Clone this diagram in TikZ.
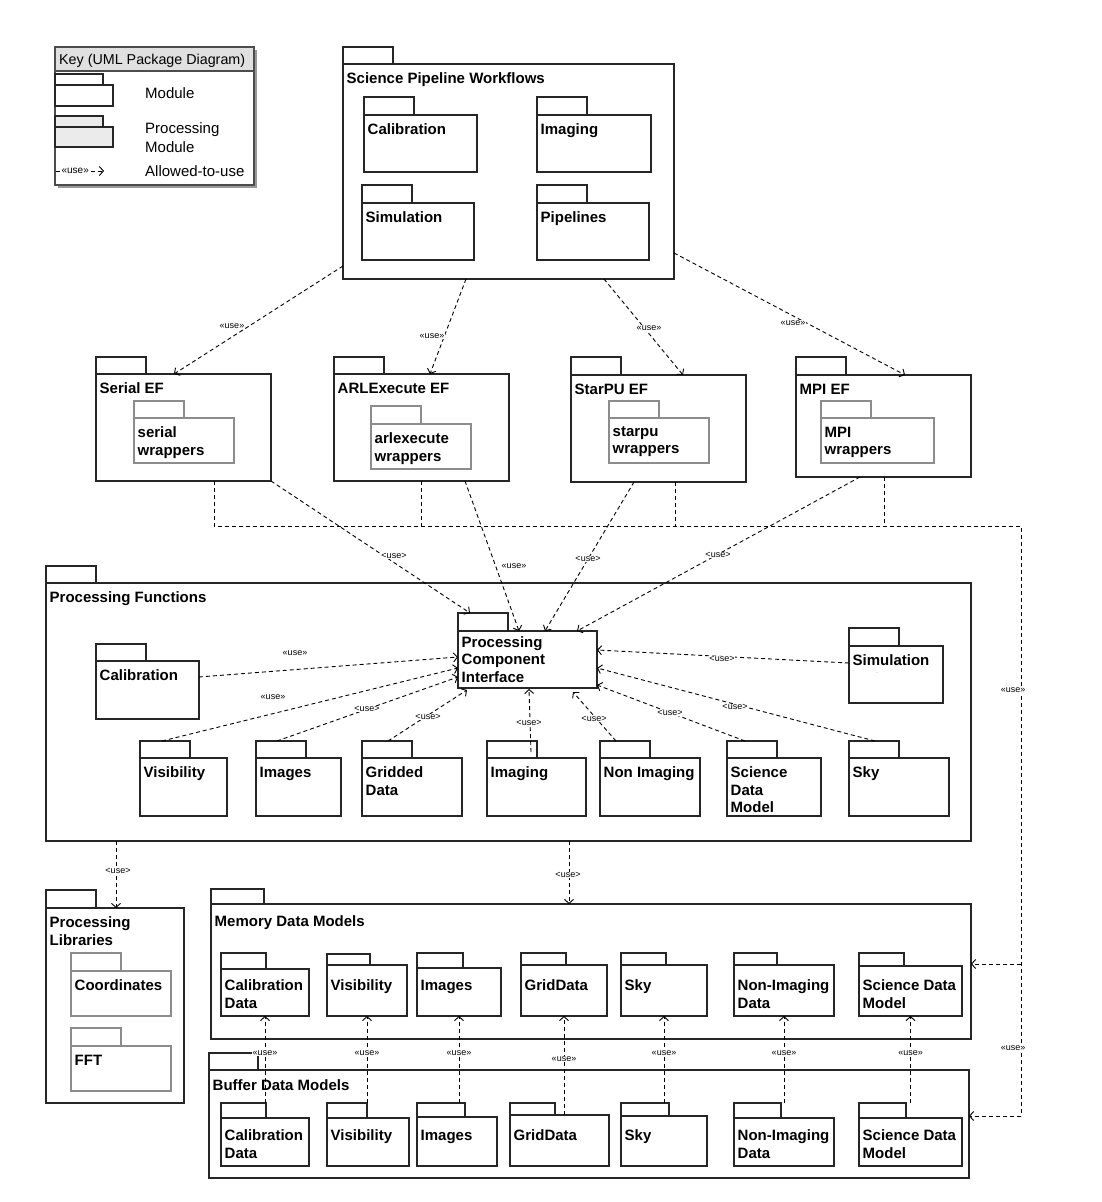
\documentclass[tikz,border=0pt]{standalone}
\usepackage{fontspec}
\setmainfont{Liberation Sans}
\usetikzlibrary{arrows.meta,calc}

\tikzset{
  pkbox/.style={draw=black!85, line width=1.1pt, fill=white, rectangle, inner sep=0pt, outer sep=0pt},
  pktext/.style={anchor=north west, inner sep=0pt, align=left, font=\bfseries\fontsize{15}{17.5}\selectfont},
  keytext/.style={inner sep=0pt, align=left, font=\fontsize{15}{19}\selectfont},
  dep/.style={draw=black, line width=0.9pt, dash pattern=on 4pt off 3pt, -{Straight Barb[length=4pt,width=9pt]}},
  bus/.style={draw=black, line width=0.9pt, dash pattern=on 4pt off 3pt},
  ulab/.style={font=\fontsize{9}{10}\selectfont, fill=white, inner sep=0.6pt},
}

% \pk[text opts]{name}{x1}{ytab}{xtab}{ybody}{x2}{y2}{text}
\newcommand\pk[9][]{%
  \node[pkbox, minimum width={#7-#3}, minimum height={#8-#6}, anchor=north west] (#2) at (#3,#6) {};
  \node[pkbox, minimum width={#5-#3}, minimum height={#6-#4}, anchor=south west] (#2-tab) at (#3,#6) {};
  \node[pktext,#1] (#2-txt) at ($(#2.north west)+(3.5,8.5)$) {#9};
}

\begin{document}
\begin{tikzpicture}[x=1pt,y=-1pt]
\useasboundingbox (0,0) rectangle (1101,1202);

% ---------------- Key ----------------
\node[fill=black!40, inner sep=0pt, outer sep=0pt, minimum width=199, minimum height=138, anchor=north west] (keyshadow) at (58,50) {};
\node[pkbox, draw=black!70, minimum width=199, minimum height=138, anchor=north west] (key) at (55,47) {};
\node[pkbox, draw=black!70, fill=black!12, minimum width=199, minimum height=24, anchor=north west] (keyhead) at (55,47) {};
\node[keytext, anchor=west, font=\fontsize{14.3}{17}\selectfont] (keytitle) at (59,61) {Key (UML Package Diagram)};
\node[pkbox, minimum width=58, minimum height=21, anchor=north west] (kmod) at (55,85) {};
\node[pkbox, minimum width=48, minimum height=11, anchor=south west] (kmod-tab) at (55,85) {};
\node[keytext, anchor=west] (kmodtxt) at (145,93) {Module};
\node[pkbox, fill=black!8, minimum width=58, minimum height=20, anchor=north west] (kpm) at (55,127) {};
\node[pkbox, fill=black!8, minimum width=48, minimum height=11, anchor=south west] (kpm-tab) at (55,127) {};
\node[keytext, anchor=west] (kpmtxt) at (145,137.5) {Processing\\Module};
\coordinate (ka) at (56,171);
\coordinate (kb) at (104,171);
\draw[dep] (ka) -- (kb) node[ulab, pos=0.4, font=\fontsize{10}{11}\selectfont] (kal) {«use»};
\node[keytext, anchor=west] (kusetxt) at (145,171) {Allowed-to-use};

% ---------------- Science Pipeline Workflows ----------------
\pk{spw}{343}{47}{393}{64}{674}{279}{Science Pipeline Workflows}
\pk{scal}{364}{97}{414}{115}{477}{172}{Calibration}
\pk{simg}{537}{97}{587}{115}{651}{172}{Imaging}
\pk{ssim}{362}{185}{412}{203}{474}{260}{Simulation}
\pk{spip}{537}{185}{587}{203}{649}{260}{Pipelines}

% ---------------- Execution frameworks ----------------
\pk{serial}{96}{357}{146}{374}{271}{481}{Serial EF}
\pk{arl}{334}{357}{384}{374}{509}{481}{ARLExecute EF}
\pk{starpu}{571}{357}{621}{375}{746}{482}{StarPU EF}
\pk{mpi}{796}{357}{846}{375}{971}{477}{MPI EF}
\begin{scope}[pkbox/.append style={draw=black!45}]
\pk{serw}{134}{401}{184}{418}{234}{463}{serial\\wrappers}
\pk{arlw}{371}{406}{421}{424}{471}{469}{arlexecute\\wrappers}
\pk{starw}{609}{401}{659}{418}{709}{463}{starpu\\wrappers}
\pk{mpiw}{821}{401}{871}{418}{934}{463}{MPI\\wrappers}
\end{scope}

% ---------------- Processing Functions ----------------
\pk{pf}{46}{566}{96}{583}{971}{841}{Processing Functions}
\pk{pcal}{96}{644}{146}{661}{199}{719}{Calibration}
\pk[yshift=3.5pt]{pci}{458}{613}{508}{631}{597}{688}{Processing\\Component\\Interface}
\pk{psim}{849}{628}{899}{646}{943}{703}{Simulation}
\node[font=\fontsize{3.5}{4}\selectfont, text=black!60, inner sep=0pt] (simdots) at (877,673) {...};
\pk{pvis}{140}{741}{190}{758}{227}{816}{Visibility}
\pk{pimg}{256}{741}{306}{758}{341}{816}{Images}
\pk{pgrid}{362}{741}{412}{758}{462}{816}{Gridded\\Data}
\pk{pimaging}{487}{741}{537}{758}{586}{816}{Imaging}
\pk{pnon}{600}{741}{650}{758}{700}{816}{Non Imaging}
\pk{psdm}{727}{741}{777}{758}{821}{816}{Science\\Data\\Model}
\pk{psky}{849}{741}{899}{758}{949}{816}{Sky}

% ---------------- Processing Libraries ----------------
\pk{pl}{46}{890}{96}{908}{184}{1103}{Processing\\Libraries}
\begin{scope}[pkbox/.append style={draw=black!45}]
\pk{coord}{71}{953}{121}{971}{171}{1016}{Coordinates}
\pk{fft}{71}{1028}{121}{1046}{171}{1091}{FFT}
\end{scope}

% ---------------- Memory Data Models ----------------
\pk[yshift=-3pt]{mdm}{211}{889}{264}{904}{971}{1039}{Memory Data Models}
\pk[yshift=-2.4pt]{mcal}{221}{953}{266}{969}{309}{1016}{Calibration\\Data}
\pk[yshift=-6.4pt]{mvis}{327}{954}{370}{965}{407}{1016}{Visibility}
\pk[yshift=-3.4pt]{mimg}{417}{953}{463}{968}{501}{1016}{Images}
\pk[yshift=-6.4pt]{mgrid}{521}{953}{566}{965}{607}{1016}{GridData}
\pk[yshift=-6.4pt]{msky}{621}{953}{666}{965}{707}{1016}{Sky}
\pk[yshift=-6.4pt]{mnon}{734}{953}{777}{965}{834}{1016}{Non-Imaging\\Data}
\pk[yshift=-5.4pt]{msdm}{859}{953}{904}{966}{962}{1016}{Science Data\\Model}

% ---------------- Buffer Data Models ----------------
\pk[yshift=-1pt]{bdm}{209}{1053}{258}{1070}{969}{1178}{Buffer Data Models}
\pk[yshift=-3pt]{bcal}{221}{1103}{266}{1118}{309}{1166}{Calibration\\Data}
\pk[yshift=-3pt]{bvis}{327}{1103}{367}{1118}{409}{1166}{Visibility}
\pk[yshift=-4pt]{bimg}{417}{1103}{465}{1117}{497}{1166}{Images}
\pk[yshift=-6pt]{bgrid}{510}{1103}{555}{1115}{609}{1166}{GridData}
\pk[yshift=-5pt]{bsky}{621}{1103}{669}{1116}{707}{1166}{Sky}
\pk[yshift=-3pt]{bnon}{734}{1103}{781}{1118}{834}{1166}{Non-Imaging\\Data}
\pk[yshift=-3pt]{bsdm}{859}{1103}{906}{1118}{962}{1166}{Science Data\\Model}

% ---------------- Connectors ----------------
% SPW -> EFs
\draw[dep] ($(spw.south west)+(0,-13)$) -- ($(serial.north west)+(78,0)$) node[ulab] (l1) at (232,326) {«use»};
\draw[dep] ($(spw.south west)+(123,0)$) -- ($(arl.north west)+(96,0)$) node[ulab] (l2) at (432,336) {«use»};
\draw[dep] ($(spw.south west)+(261,0)$) -- ($(starpu.north west)+(112,0)$) node[ulab] (l3) at (649,328) {«use»};
\draw[dep] ($(spw.south east)+(0,-26)$) -- ($(mpi.north west)+(109,0)$) node[ulab] (l4) at (793,323) {«use»};

% EFs -> PCI
\draw[dep] (serial.south east) -- ($(pci-tab.north west)+(12,0)$) node[ulab] (l5) at (394,556) {<use>};
\draw[dep] ($(arl.south west)+(131,0)$) -- ($(pci.north west)+(61,0)$) node[ulab] (l6) at (514,566) {«use»};
\draw[dep] ($(starpu.south west)+(63,0)$) -- ($(pci.north west)+(87,0)$) node[ulab] (l7) at (588,559) {<use>};
\draw[dep] ($(mpi.south west)+(64,0)$) -- ($(pci.north west)+(119,0)$) node[ulab] (l8) at (718,555) {<use>};

% bus from EFs to data models
\coordinate (busL) at (214,526);
\coordinate (busR) at (1021,526);
\coordinate (busM) at (1021,964);
\coordinate (busB) at (1021,1116);
\coordinate (serb) at ($(serial.south west)+(118,0)$);
\coordinate (arlb) at ($(arl.south west)+(87,0)$);
\coordinate (starb) at ($(starpu.south west)+(104,0)$);
\coordinate (mpib) at ($(mpi.south west)+(88,0)$);
\draw[bus] (serb) -- (busL) -- (busR) -- (busB);
\draw[bus] (arlb) -- (arlb |- busL);
\draw[bus] (starb) -- (starb |- busL);
\draw[bus] (mpib) -- (mpib |- busL);
\draw[dep] (busM) -- (mdm.east |- busM);
\draw[dep] (busB) -- (bdm.east |- busB);
\node[ulab] (lb1) at (1013,690) {«use»};
\node[ulab] (lb2) at (1013,1048) {«use»};

% Processing Functions -> PCI
\draw[dep] ($(pcal.north east)+(0,16)$) -- ($(pci.north west)+(0,26)$) node[ulab] (l9) at (295,653) {«use»};
\draw[dep] ($(pvis-tab.north west)+(22,0)$) -- ($(pci.north west)+(0,37)$) node[ulab] (l10) at (273,697) {«use»};
\draw[dep] ($(pimg-tab.north west)+(21,0)$) -- ($(pci.north west)+(0,46)$) node[ulab] (l11) at (367,709) {<use>};
\draw[dep] ($(pgrid-tab.north west)+(26,0)$) -- ($(pci.south west)+(9,2)$) node[ulab] (l12) at (428,717) {<use>};
\draw[dep] ($(pimaging-tab.north west)+(44,11)$) -- ($(pci.south west)+(71,1)$) node[ulab] (l13) at (529,723) {<use>};
\draw[dep] ($(pnon-tab.north west)+(16,0)$) -- ($(pci.south west)+(115,4)$) node[ulab] (l14) at (594,719) {<use>};
\draw[dep] ($(psdm-tab.north west)+(18,0)$) -- ($(pci.south east)+(0,-3)$) node[ulab] (l15) at (670,713) {<use>};
\draw[dep] ($(psky-tab.north west)+(26,0)$) -- ($(pci.north east)+(0,37)$) node[ulab] (l16) at (735,707) {<use>};
\draw[dep] ($(psim.north west)+(0,17)$) -- ($(pci.north east)+(0,19)$) node[ulab] (l17) at (722,659) {<use>};

% Processing Functions -> Libraries / Memory Data Models
\draw[dep] ($(pf.south west)+(70,0)$) -- ($(pl.north west)+(70,0)$) node[ulab] (l18) at (118,871) {<use>};
\draw[dep] ($(pf.south west)+(523,0)$) -- ($(mdm.north west)+(358,0)$) node[ulab] (l19) at (568,875) {<use>};

% Buffer -> Memory
\foreach \m/\s/\p in {mcal/bcal-tab/0.575, mvis/bvis-tab/0.575, mimg/bimg-tab/0.575, mgrid/bgrid/0.566, msky/bsky-tab/0.575, mnon/bnon-tab/0.575, msdm/bsdm-tab/0.575}
  \draw[dep] (\m.south |- \s.north) -- (\m.south) node[ulab, pos=\p] (lab-\m) {«use»};

\end{tikzpicture}
\end{document}
